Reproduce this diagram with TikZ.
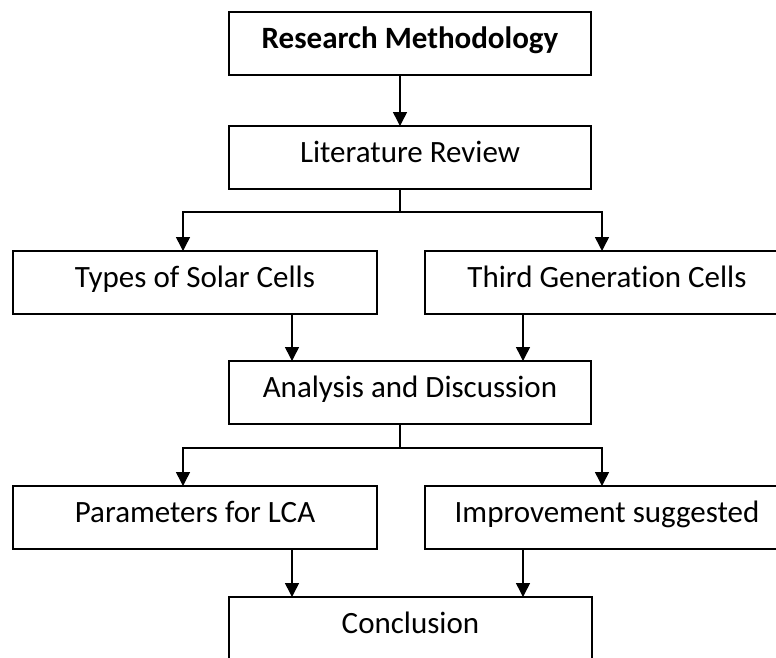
\documentclass[tikz,border=0pt]{standalone}
\usepackage{fontspec}
\setmainfont[Ligatures=NoCommon]{Carlito}
\usetikzlibrary{arrows.meta}
\begin{document}
\begin{tikzpicture}[x=1pt,y=-1pt,
  box/.style={draw,line width=1.7pt,minimum height=63pt,inner sep=0pt,outer sep=0pt,
    anchor=north west,font=\fontsize{31}{37}\selectfont,text height=22pt,text depth=13pt},
  midbox/.style={box,minimum width=362pt},
  sidebox/.style={box,minimum width=364pt},
  link/.style={line width=1.5pt},
  arr/.style={link,-{Triangle[width=14pt,length=14pt]}}
]
\useasboundingbox (0,0) rectangle (776,657);
\node[midbox,font=\fontsize{31}{37}\selectfont\bfseries] (rm) at (229,12) {Research Methodology};
\node[midbox] (lr) at (229,126) {Literature Review};
\node[sidebox] (ty) at (13,251) {Types of Solar Cells};
\node[sidebox] (tg) at (425,251) {Third Generation Cells};
\node[midbox] (an) at (229,361) {Analysis and Discussion};
\node[sidebox] (pa) at (13,486) {Parameters for LCA};
\node[sidebox] (im) at (425,486) {Improvement suggested};
\node[midbox,minimum width=363pt] (co) at (229,597) {Conclusion};
\coordinate (cx) at (400,0);
\coordinate (lx) at (183,0);
\coordinate (rx) at (602,0);
\coordinate (ax) at (292,0);
\coordinate (bx) at (523,0);
\coordinate (j1) at (400,212);
\coordinate (j2) at (400,448);
\draw[arr] (rm.south -| cx) -- (lr.north -| cx);
\draw[link] (lr.south -| cx) -- (j1);
\draw[arr] (j1) -| (ty.north -| lx);
\draw[arr] (j1) -| (tg.north -| rx);
\draw[arr] (ty.south -| ax) -- (an.north -| ax);
\draw[arr] (tg.south -| bx) -- (an.north -| bx);
\draw[link] (an.south -| cx) -- (j2);
\draw[arr] (j2) -| (pa.north -| lx);
\draw[arr] (j2) -| (im.north -| rx);
\draw[arr] (pa.south -| ax) -- (co.north -| ax);
\draw[arr] (im.south -| bx) -- (co.north -| bx);
\end{tikzpicture}
\end{document}
